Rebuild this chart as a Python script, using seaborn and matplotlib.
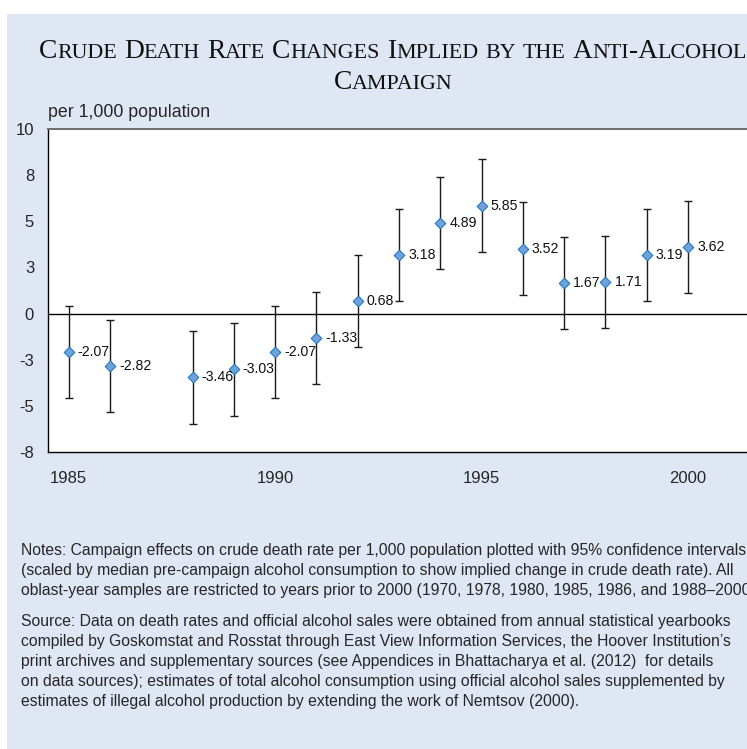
import numpy as np
import pandas as pd
import matplotlib
matplotlib.use("Agg")
import matplotlib.pyplot as plt
import seaborn as sns
from matplotlib.patches import Rectangle

# values
years = [1985, 1986, 1988, 1989, 1990, 1991, 1992, 1993, 1994, 1995, 1996, 1997, 1998, 1999, 2000]
effects = [-2.07, -2.82, -3.46, -3.03, -2.07, -1.33, 0.68, 3.18, 4.89, 5.85, 3.52, 1.67, 1.71, 3.19, 3.62]
ci_half = [2.50, 2.49, 2.50, 2.51, 2.50, 2.50, 2.51, 2.49, 2.49, 2.50, 2.51, 2.50, 2.50, 2.49, 2.50]

year_ticks = [1985, 1990, 1995, 2000]
ytick_values = [-7.5, -5, -2.5, 0, 2.5, 5, 7.5, 10]
ytick_labels = ["-8", "-5", "-3", "0", "3", "5", "8", "10"]

title_lines = ["Crude Death Rate Changes Implied by the Anti-Alcohol", "Campaign"]
unit_label = "per 1,000 population"
notes = ("Notes: Campaign effects on crude death rate per 1,000 population plotted with 95% confidence intervals\n"
         "(scaled by median pre-campaign alcohol consumption to show implied change in crude death rate). All\n"
         "oblast-year samples are restricted to years prior to 2000 (1970, 1978, 1980, 1985, 1986, and 1988\u20132000).")
source = ("Source: Data on death rates and official alcohol sales were obtained from annual statistical yearbooks\n"
          "compiled by Goskomstat and Rosstat through East View Information Services, the Hoover Institution\u2019s\n"
          "print archives and supplementary sources (see Appendices in Bhattacharya et al. (2012)  for details\n"
          "on data sources); estimates of total alcohol consumption using official alcohol sales supplemented by\n"
          "estimates of illegal alcohol production by extending the work of Nemtsov (2000).")

sns.set_style("white")
plt.rcParams['font.family'] = ['Liberation Sans', 'DejaVu Sans']

W, H = 747, 749
fig = plt.figure(figsize=(W / 100, H / 100), dpi=100)
fig.patch.set_facecolor("white")
fig.patches.append(Rectangle((7 / W, 0), 1, 1 - 14 / H, transform=fig.transFigure,
                             facecolor="#dfe6f4", edgecolor="none", zorder=-10))

ax = fig.add_axes([48 / W, 1 - 452 / H, 702 / W, 323 / H])
ax.set_facecolor("white")

df = pd.DataFrame({"year": years, "effect": effects, "ci": ci_half})

ax.axhline(0, color="black", lw=1.0, zorder=1)
ax.errorbar(df["year"], df["effect"], yerr=df["ci"], fmt="none", ecolor="#1a1a1a",
            elinewidth=1.0, capsize=2.6, capthick=1.0, zorder=2)
sns.scatterplot(data=df, x="year", y="effect", marker="D", s=29, color="#70a2d8",
                edgecolor="#1f78c8", linewidth=0.8, zorder=3, ax=ax, legend=False)
for x, y in zip(df["year"], df["effect"]):
    ax.annotate(f"{y:.2f}", (x, y), xytext=(6.5, 0), textcoords="offset points",
                va="center", ha="left", fontsize=10.2, color="#111111")

ax.set_xlim(1984.5, 2001.5)
ax.set_ylim(-7.5, 10)
ax.set_xlabel("")
ax.set_ylabel("")
ax.set_xticks(year_ticks, [str(y) for y in year_ticks])
ax.set_xticks(np.arange(1984.5, 2002, 1.0), minor=True)
ax.set_yticks(ytick_values, ytick_labels)
ax.tick_params(axis="x", which="major", length=0, pad=14, labelsize=12)
ax.tick_params(axis="x", which="minor", length=4, width=1, direction="out", color="black")
ax.tick_params(axis="y", length=4, width=1, direction="out", pad=6, labelsize=12, color="black")
for side in ["left", "bottom"]:
    ax.spines[side].set_color("black")
    ax.spines[side].set_linewidth(1.0)
ax.spines["top"].set_color("#6e6e6e")
ax.spines["top"].set_linewidth(1.4)
ax.spines["right"].set_visible(False)

fig.text(48 / W, 1 - 117 / H, unit_label, fontsize=12.8, va="baseline", ha="left")


def small_caps(line, xc, ybase, big, small):
    # lay out upper-case runs at `big` size and lower-case runs as small capitals
    r = fig.canvas.get_renderer()
    words = []
    for word in line.split(" "):
        runs = []
        for ch in word:
            sz = small if ch.islower() else big
            if runs and runs[-1][1] == sz:
                runs[-1][0] += ch.upper()
            else:
                runs.append([ch.upper(), sz])
        words.append(runs)
    gap = 0.25 * big * 100 / 72
    arts, x = [], 0.0
    for i, runs in enumerate(words):
        if i:
            x += gap
        for s, sz in runs:
            t = fig.text(0, 0, s, fontsize=sz, family="Liberation Serif", color="#111111",
                         va="baseline", ha="left", transform=None)
            w = t.get_window_extent(r).width
            arts.append((t, x))
            x += w
    x0 = xc - x / 2
    for t, dx in arts:
        t.set_position((x0 + dx, H - ybase))


small_caps(title_lines[0], 393, 58, 19.8, 15.8)
small_caps(title_lines[1], 393, 89, 19.8, 15.8)

fig.text(21 / W, 1 - 543 / H, notes, fontsize=11.3, va="top", ha="left", linespacing=1.42)
fig.text(21 / W, 1 - 614 / H, source, fontsize=11.3, va="top", ha="left", linespacing=1.42)

fig.savefig("out.png", dpi=100)
